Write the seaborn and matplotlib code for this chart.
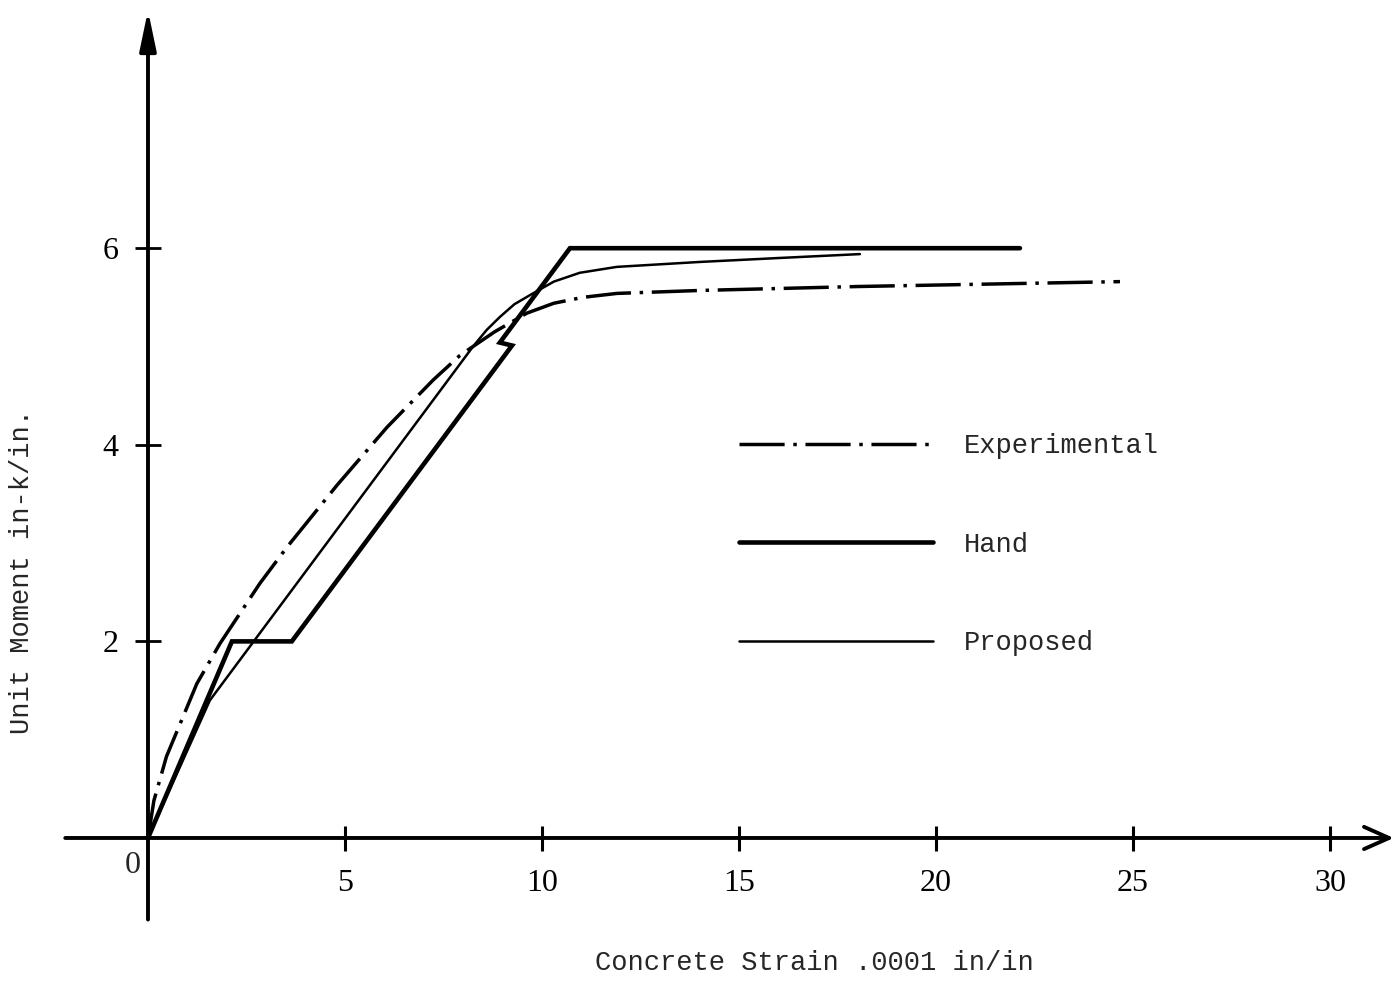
import numpy as np
import pandas as pd
import matplotlib.pyplot as plt
import seaborn as sns

# concrete strain (.0001 in/in) vs unit moment (in-k/in)
exp_x = [0, 0.15, 0.47, 1.24, 1.83, 2.84, 3.53, 4.80, 6.07, 7.24, 7.92, 8.8, 9.62, 10.3, 11.04, 11.9, 14.0, 18.0, 22.0, 24.67]
exp_y = [0, 0.38, 0.83, 1.57, 1.98, 2.59, 2.96, 3.59, 4.18, 4.66, 4.91, 5.15, 5.34, 5.44, 5.50, 5.54, 5.57, 5.61, 5.64, 5.66]

hand_x = [0, 2.13, 3.65, 9.24, 8.93, 10.71, 22.13]
hand_y = [0, 2.0, 2.0, 5.01, 5.04, 6.0, 6.0]

prop_x = [0, 1.57, 8.25, 8.6, 8.93, 9.3, 9.77, 10.3, 10.96, 11.9, 14.0, 16.0, 18.07]
prop_y = [0, 1.40, 5.00, 5.17, 5.30, 5.43, 5.54, 5.66, 5.75, 5.81, 5.86, 5.90, 5.94]

x_ticks = [5, 10, 15, 20, 25, 30]
y_ticks = [2, 4, 6]

sns.set_style("white")
plt.rcParams['font.family'] = ['Liberation Serif', 'DejaVu Serif']
mono = ['Liberation Mono', 'DejaVu Sans Mono']

fig = plt.figure(figsize=(13.95, 9.81), dpi=100)
ax = fig.add_axes([0, 0, 1, 1])

sns.lineplot(x=exp_x, y=exp_y, sort=False, estimator=None, color='black', lw=2.5,
             dashes=False, label='Experimental', ax=ax)
ax.lines[-1].set_dashes([13, 2.5, 1, 2.5])
sns.lineplot(x=hand_x, y=hand_y, sort=False, estimator=None, color='black', lw=3.3,
             label='Hand', ax=ax, solid_joinstyle='miter')
sns.lineplot(x=prop_x, y=prop_y, sort=False, estimator=None, color='black', lw=1.8,
             label='Proposed', ax=ax)

ax.set_xlim(-3.756, 31.65)
ax.set_ylim(-1.455, 8.525)

for s in ax.spines.values():
    s.set_visible(False)
ax.spines['bottom'].set_position(('data', 0))
ax.spines['left'].set_position(('data', 0))

# axes drawn as arrows
ax.annotate('', xy=(31.62, 0), xytext=(-2.1, 0),
            arrowprops=dict(arrowstyle='->,head_length=0.9,head_width=0.4', lw=2.8,
                            color='black', mutation_scale=20, shrinkA=0, shrinkB=0))
ax.annotate('', xy=(0, 8.42), xytext=(0, -0.83),
            arrowprops=dict(arrowstyle='-|>,head_length=1.2,head_width=0.25', lw=2.8,
                            color='black', mutation_scale=20, shrinkA=0, shrinkB=0))

ax.set_xticks(x_ticks)
ax.set_yticks(y_ticks)
ax.set_xticklabels([str(t) for t in x_ticks])
ax.set_yticklabels([str(t) for t in y_ticks])
ax.tick_params(axis='x', direction='inout', length=18, width=2.2, pad=13, labelsize=23,
               bottom=True, colors='black')
ax.tick_params(axis='y', direction='inout', length=19, width=2.0, pad=12, labelsize=23,
               left=True, colors='black')
ax.text(-0.38, -0.285, '0', ha='center', va='center', fontsize=23)

fig.text(814 / 1395, 1 - 963 / 981, 'Concrete Strain .0001 in/in', ha='center', va='center',
         fontsize=19.5, family=mono)
fig.text(22 / 1395, 1 - 572 / 981, 'Unit Moment in-k/in.', ha='center', va='center',
         rotation=90, fontsize=19.5, family=mono)

ax.legend(loc='upper left', bbox_to_anchor=(739 / 1395, 1 - 433 / 981),
          bbox_transform=fig.transFigure, frameon=False, handlelength=7.15,
          handletextpad=1.15, labelspacing=2.68, borderpad=0, borderaxespad=0,
          prop={'family': mono, 'size': 19.5})

fig.savefig('out.png', dpi=100)
plt.close()
